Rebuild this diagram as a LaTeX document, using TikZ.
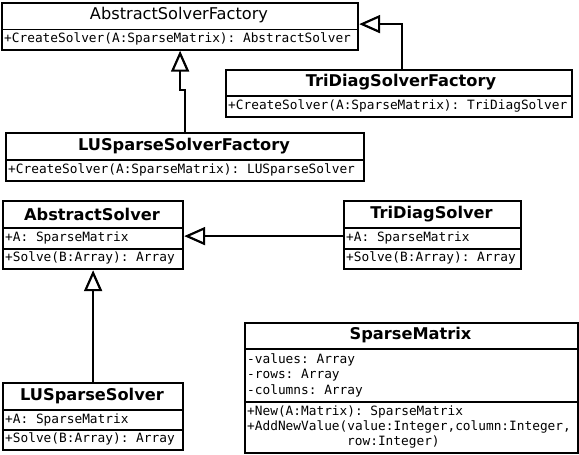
\documentclass[tikz,border=0pt]{standalone}
\usepackage{fontspec}
\setmainfont{DejaVu Sans}
\setmonofont{DejaVu Sans Mono}
\usetikzlibrary{arrows.meta}
\begin{document}
\begin{tikzpicture}[x=1pt,y=-1pt,
  ubox/.style={draw, line width=2.2pt, anchor=north west, inner sep=0pt, fill=white},
  ttl/.style={font=\fontsize{16.2}{19}\selectfont, inner sep=0pt},
  ttlb/.style={font=\fontsize{16.2}{19}\selectfont\bfseries, inner sep=0pt},
  mem/.style={font=\ttfamily\fontsize{12.8}{15.5}\selectfont, anchor=west, inner sep=0pt, text height=9pt, text depth=2.5pt},
  sep/.style={line width=1.8pt},
  inh/.style={line width=2.2pt, -{Triangle[open, length=21pt, width=18pt]}}]
\useasboundingbox[fill=white] (0,0) rectangle (579,455);

% AbstractSolverFactory
\node[ubox, minimum width=356pt, minimum height=46.5pt] (asf) at (1,2) {};
\draw[sep] (asf.west |- 0,29.5) -- (asf.east |- 0,29.5);
\node[ttl] (asft) at (179,15.5) {AbstractSolverFactory};
\node[mem] (asfm) at (4,39.5) {+CreateSolver(A:SparseMatrix): AbstractSolver};

% TriDiagSolverFactory
\node[ubox, minimum width=346pt, minimum height=47pt] (tdsf) at (225,69) {};
\draw[sep] (tdsf.west |- 0,96) -- (tdsf.east |- 0,96);
\node[ttlb] (tdsft) at (401,82.5) {TriDiagSolverFactory};
\node[mem] (tdsfm) at (228,106) {+CreateSolver(A:SparseMatrix): TriDiagSolver};

% LUSparseSolverFactory
\node[ubox, minimum width=358pt, minimum height=48pt] (lussf) at (5,132) {};
\draw[sep] (lussf.west |- 0,160) -- (lussf.east |- 0,160);
\node[ttlb] (lussft) at (184,146) {LUSparseSolverFactory};
\node[mem] (lussfm) at (8,170) {+CreateSolver(A:SparseMatrix): LUSparseSolver};

% AbstractSolver
\node[ubox, minimum width=180pt, minimum height=68pt] (as) at (2,200) {};
\draw[sep] (as.west |- 0,228) -- (as.east |- 0,228);
\draw[sep] (as.west |- 0,249) -- (as.east |- 0,249);
\node[ttlb] (ast) at (92,214) {AbstractSolver};
\node[mem] (asa) at (5,238.5) {+A: SparseMatrix};
\node[mem] (asm) at (5,258.5) {+Solve(B:Array): Array};

% TriDiagSolver
\node[ubox, minimum width=177pt, minimum height=68pt] (tds) at (343,200) {};
\draw[sep] (tds.west |- 0,228) -- (tds.east |- 0,228);
\draw[sep] (tds.west |- 0,249) -- (tds.east |- 0,249);
\node[ttlb] (tdst) at (431.5,214) {TriDiagSolver};
\node[mem] (tdsa) at (346,238.5) {+A: SparseMatrix};
\node[mem] (tdsm) at (346,258.5) {+Solve(B:Array): Array};

% LUSparseSolver
\node[ubox, minimum width=180pt, minimum height=67pt] (luss) at (2,382) {};
\draw[sep] (luss.west |- 0,410) -- (luss.east |- 0,410);
\draw[sep] (luss.west |- 0,430) -- (luss.east |- 0,430);
\node[ttlb] (lusst) at (92,396) {LUSparseSolver};
\node[mem] (lussa) at (5,420) {+A: SparseMatrix};
\node[mem] (lussm) at (5,439.5) {+Solve(B:Array): Array};

% SparseMatrix
\node[ubox, minimum width=333pt, minimum height=130pt] (sm) at (244,322) {};
\draw[sep] (sm.west |- 0,349) -- (sm.east |- 0,349);
\draw[sep] (sm.west |- 0,402) -- (sm.east |- 0,402);
\node[ttlb] (smt) at (410.5,335.5) {SparseMatrix};
\node[mem] (sma1) at (247,360) {-values: Array};
\node[mem] (sma2) at (247,375.5) {-rows: Array};
\node[mem] (sma3) at (247,391) {-columns: Array};
\node[mem] (smm1) at (247,412) {+New(A:Matrix): SparseMatrix};
\node[mem] (smm2) at (247,427) {+AddNewValue(value:Integer,column:Integer,};
\node[mem] (smm3) at (347,442) {row:Integer)};

% generalisations
\draw[inh] ([xshift=177pt]tdsf.north west) |- ([yshift=2.25pt]asf.east);
\draw[inh] (lussf.north) -- ++(0,-42) -| (asf.south);
\draw[inh] ([yshift=-1pt]tds.west) -- ([yshift=-1pt]tds.west -| as.east);
\draw[inh] (luss.north) -- (as.south);
\end{tikzpicture}
\end{document}
